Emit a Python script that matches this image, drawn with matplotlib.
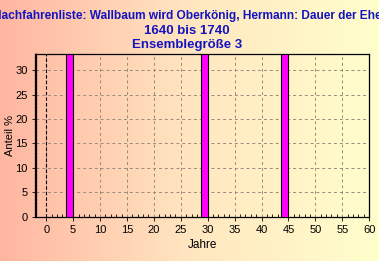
import matplotlib
matplotlib.use("Agg")
import matplotlib.pyplot as plt
import numpy as np
from matplotlib.colors import LinearSegmentedColormap

# Daten: Dauer der Ehe (Jahre) und Anteil in %
jahre = [4, 29, 44]
anteil = [33.33, 33.33, 33.33]

titel = ["Nachfahrenliste: Wallbaum wird Oberkönig, Hermann: Dauer der Ehe",
         "1640 bis 1740",
         "Ensemblegröße 3"]

plt.rcParams['font.family'] = ['Liberation Sans', 'DejaVu Sans']

fig = plt.figure(figsize=(3.79, 2.61), dpi=100)

# Hintergrund mit Farbverlauf
bg = fig.add_axes([0, 0, 1, 1], zorder=0)
cmap = LinearSegmentedColormap.from_list("bg", ["#FFB6A0", "#FFE6C0", "#FFFFCC"])
grad = np.linspace(0, 1, 256).reshape(1, -1)
bg.imshow(grad, aspect='auto', cmap=cmap, extent=[0, 1, 0, 1])
bg.axis('off')

ax = fig.add_axes([0.095, 0.170, 0.879, 0.623], zorder=1)
ax.patch.set_alpha(0)

ax.bar([j + 0.35 for j in jahre], anteil, width=1.3, color='#FF00FF',
       edgecolor='black', linewidth=0.8, zorder=3)

ax.set_xlim(-1.9, 60)
ax.set_ylim(0, 33.33)
ax.set_xticks(range(0, 61, 5))
ax.set_yticks(range(0, 31, 5))
ax.set_xticks(range(0, 61, 1), minor=True)
ax.tick_params(axis='both', labelsize=8, length=3, width=0.6, pad=3)
ax.tick_params(axis='x', which='minor', direction='in', length=2, width=0.6)

ax.grid(True, linestyle=(0, (3, 3)), color='#9a8a78', linewidth=0.7, zorder=1)
ax.axvline(0, color='black', linestyle=(0, (3, 2)), linewidth=0.8, zorder=2)

for s in ['top', 'right', 'bottom']:
    ax.spines[s].set_color('black')
    ax.spines[s].set_linewidth(0.9)
ax.spines['left'].set_linewidth(1.6)
ax.spines['left'].set_linestyle((0, (1, 0.6)))

ax.set_xlabel('Jahre', fontsize=8.5, labelpad=3)
ax.set_ylabel('Anteil %', fontsize=8)
ax.yaxis.set_label_coords(-0.064, 0.5)

groessen = [8.6, 9.5, 9.5]
for i, t in enumerate(titel):
    fig.text(0.493, 1 - (16 + 14.5 * i) / 261, t, ha='center', va='center',
             fontsize=groessen[i], fontweight='bold', color='#1414C0')

fig.savefig("out.png", dpi=100)
